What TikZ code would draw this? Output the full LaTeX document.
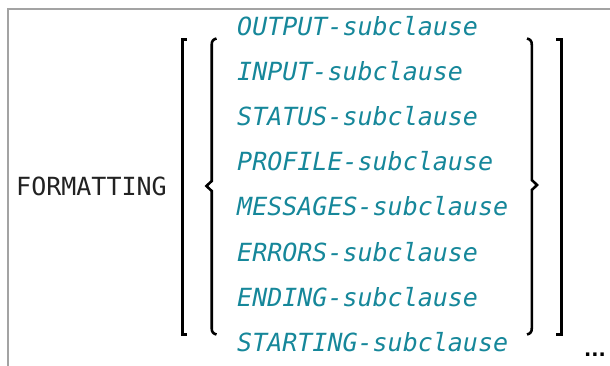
\documentclass[tikz,border=0pt]{standalone}
\usepackage{fontspec}
\setmonofont{DejaVu Sans Mono}
\newfontfamily\dotsfont{DejaVu Sans}
\definecolor{frame}{HTML}{A3A3A3}
\definecolor{kw}{HTML}{222222}
\definecolor{sub}{HTML}{16879A}
\tikzset{
  keyword/.style={anchor=base west, inner sep=0pt, text=kw,
    font=\fontsize{25}{30}\selectfont\ttfamily},
  subclause/.style={anchor=base west, inner sep=0pt, text=sub,
    font=\fontsize{25}{30}\selectfont\ttfamily\itshape},
  sqbracket/.style={line width=3pt, line cap=butt, line join=miter},
  curlybrace/.style={line width=2.6pt, line cap=butt, line join=miter},
}
\begin{document}
\begin{tikzpicture}[x=1pt,y=-1pt]
  \useasboundingbox (0,0) rectangle (610,366);
  % frame edges
  \draw[frame, line width=2pt] (8,366) -- (8,9) -- (610,9);

  % keyword
  \node[keyword] (fmt) at (16,196) {FORMATTING};

  % alternatives
  \foreach \t [count=\i from 0] in {OUTPUT,INPUT,STATUS,PROFILE,MESSAGES,ERRORS,ENDING,STARTING}
    \node[subclause] (s\i) at (237,35.5+45.1*\i) {\t-subclause};

  % optional group: square brackets
  \draw[sqbracket] (186.5,40) -- (182,40) -- (182,334) -- (186.5,334);
  \draw[sqbracket] (556,40) -- (561,40) -- (561,334) -- (556,334);

  % choice group: curly braces
  \draw[curlybrace] (216.5,38.5) .. controls (213,39.5) and (211.7,41) .. (211.7,45)
    -- (211.7,181) -- (206.5,186) -- (211.7,191) -- (211.7,328)
    .. controls (211.7,332) and (213,333.5) .. (216.5,334.5);
  \draw[curlybrace] (527,38.5) .. controls (530.5,39.5) and (531.8,41) .. (531.8,45)
    -- (531.8,180) -- (537,185) -- (531.8,190) -- (531.8,328)
    .. controls (531.8,332) and (530.5,333.5) .. (527,334.5);

  % repetition mark
  \node[anchor=base west, inner sep=0pt, font=\fontsize{19}{20}\selectfont\dotsfont\bfseries] (rep) at (584,356) {...};
\end{tikzpicture}
\end{document}
